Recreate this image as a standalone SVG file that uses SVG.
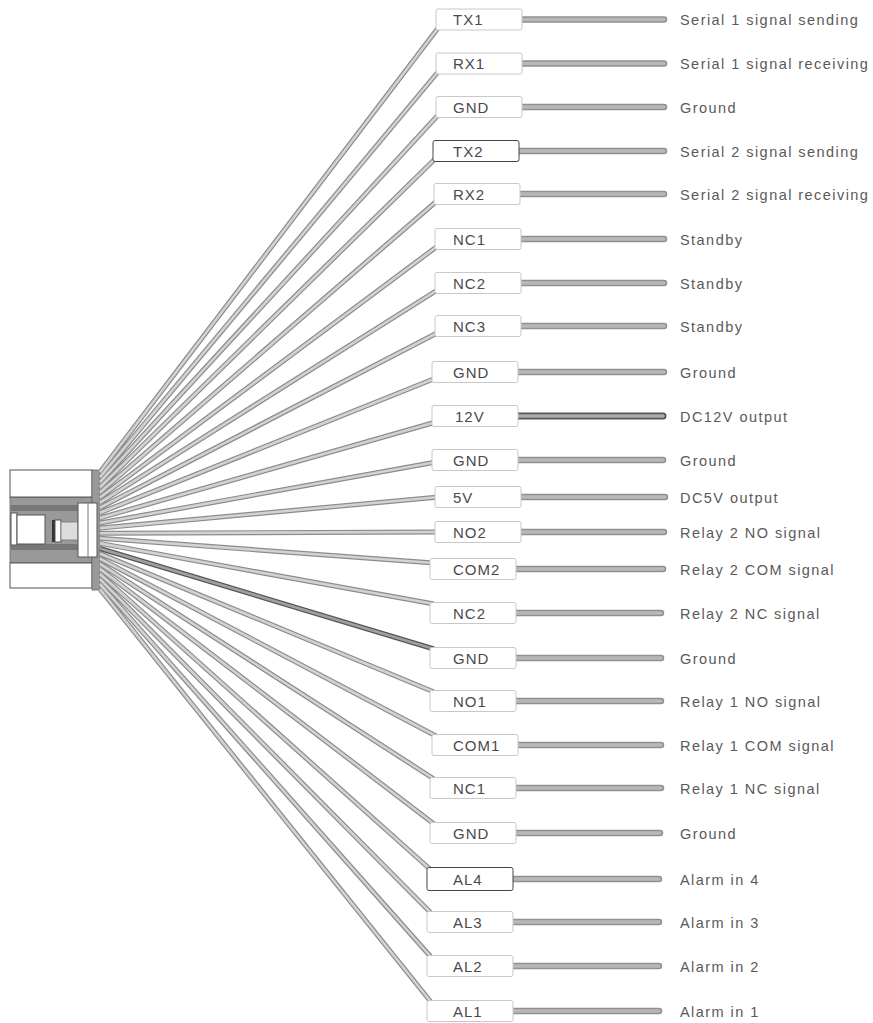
<svg xmlns="http://www.w3.org/2000/svg" width="873" height="1023" viewBox="0 0 873 1023">
<style>
.bg{fill:#fff}
.fo{fill:none;stroke:#8c8c8c;stroke-width:5;stroke-linecap:butt}
.fi{fill:none;stroke:#d2d2d2;stroke-width:2.6}
.fod{fill:none;stroke:#555;stroke-width:5}
.fid{fill:none;stroke:#a0a0a0;stroke-width:2.6}
.bo{fill:none;stroke:#909090;stroke-width:6.5;stroke-linecap:round}
.bi{fill:none;stroke:#b8b8b8;stroke-width:3.5;stroke-linecap:round}
.bod{fill:none;stroke:#555;stroke-width:7;stroke-linecap:round}
.bid{fill:none;stroke:#aaa;stroke-width:3.5;stroke-linecap:round}
.box{fill:#fff;stroke:#c8c8c8;stroke-width:1}
.boxd{fill:#fff;stroke:#444;stroke-width:1}
.bt{font-family:"Liberation Sans",Arial,sans-serif;font-size:15px;fill:#4a4a4a;letter-spacing:1px}
.lt{font-family:"Liberation Sans",Arial,sans-serif;font-size:14.5px;fill:#5a5a5a;letter-spacing:1.45px}
.cw{fill:#fff;stroke:#555;stroke-width:1}
.cg{fill:#999;stroke:#666;stroke-width:0.8}
</style>
<rect class="bg" x="0" y="0" width="873" height="1023"/>

<g id="plug">
  <rect class="cg" x="10" y="497" width="82" height="66"/>
  <rect x="11" y="505" width="67" height="6" fill="#777"/>
  <rect x="11" y="544" width="67" height="6" fill="#777"/>
  <rect class="cw" x="10" y="470" width="82" height="27"/>
  <rect class="cw" x="10" y="563" width="82" height="25"/>
  <rect class="cw" x="11" y="513" width="6" height="32"/>
  <rect class="cw" x="17" y="515" width="28" height="29"/>
  <rect x="52" y="520" width="3" height="22" fill="#333"/>
  <rect class="cw" x="55" y="520" width="6" height="22"/>
  <rect x="61" y="522" width="17" height="18" fill="#ddd" stroke="#777" stroke-width="0.8"/>
  <rect class="cg" x="92" y="470" width="8" height="120"/>
  <rect class="cw" x="78" y="503" width="19" height="54"/>
  <line x1="88" y1="503" x2="88" y2="557" stroke="#777" stroke-width="1"/>
</g>

<g id="connectors">
  <path class="fo" d="M100 472L440 25.5M100 477.1L440 69.5M100 482.2L440 113M100 487.3L437 157M100 492.4L438 200M100 497.5L439 245M100 502.6L439 289M100 507.7L439 332M100 512.8L436 378M100 517.9L436 422M100 523L436 462M100 528.1L439 497M100 533.2L439 532M100 538.3L434 563M100 543.4L434 604M100 553.6L434 692M100 558.7L436 736M100 563.8L434 779M100 568.9L434 824M100 574L431 870M100 579.1L431 913M100 584.2L431 957M100 589.3L431 1002"/>
  <path class="fi" d="M100 472L440 25.5M100 477.1L440 69.5M100 482.2L440 113M100 487.3L437 157M100 492.4L438 200M100 497.5L439 245M100 502.6L439 289M100 507.7L439 332M100 512.8L436 378M100 517.9L436 422M100 523L436 462M100 528.1L439 497M100 533.2L439 532M100 538.3L434 563M100 543.4L434 604M100 553.6L434 692M100 558.7L436 736M100 563.8L434 779M100 568.9L434 824M100 574L431 870M100 579.1L431 913M100 584.2L431 957M100 589.3L431 1002"/>
  <path class="fod" d="M100 548.5L434 649"/>
  <path class="fid" d="M100 548.5L434 649"/>
  <path class="bo" d="M522 19.5H664M522 63.5H664M522 107H664M519 151H664M520 194H664M521 239H664M521 283H664M521 326H664M518 372H664M518 460H663M521 497H665M521 532H664M516 569H663M516 613H661M516 658H661M516 701H661M518 745H661M516 788H661M516 833H660M513 879H659M513 922H659M513 966H659M513 1011H659"/>
  <path class="bi" d="M522 19.5H664M522 63.5H664M522 107H664M519 151H664M520 194H664M521 239H664M521 283H664M521 326H664M518 372H664M518 460H663M521 497H665M521 532H664M516 569H663M516 613H661M516 658H661M516 701H661M518 745H661M516 788H661M516 833H660M513 879H659M513 922H659M513 966H659M513 1011H659"/>
  <path class="bod" d="M518 416H663"/>
  <path class="bid" d="M518 416H663"/>
</g>

<g id="n1"><rect class="box" x="436" y="9" width="86" height="21" rx="2"/><text class="bt" x="453" y="25">TX1</text><text class="lt" x="680" y="25">Serial 1 signal sending</text></g>
<g id="n2"><rect class="box" x="436" y="53" width="86" height="21" rx="2"/><text class="bt" x="453" y="69">RX1</text><text class="lt" x="680" y="69">Serial 1 signal receiving</text></g>
<g id="n3"><rect class="box" x="436" y="96.5" width="86" height="21" rx="2"/><text class="bt" x="453" y="112.5">GND</text><text class="lt" x="680" y="112.5">Ground</text></g>
<g id="n4"><rect class="boxd" x="433" y="140.5" width="86" height="21" rx="2"/><text class="bt" x="453" y="156.5">TX2</text><text class="lt" x="680" y="156.5">Serial 2 signal sending</text></g>
<g id="n5"><rect class="box" x="434" y="183.5" width="86" height="21" rx="2"/><text class="bt" x="453" y="199.5">RX2</text><text class="lt" x="680" y="199.5">Serial 2 signal receiving</text></g>
<g id="n6"><rect class="box" x="435" y="228.5" width="86" height="21" rx="2"/><text class="bt" x="453" y="244.5">NC1</text><text class="lt" x="680" y="244.5">Standby</text></g>
<g id="n7"><rect class="box" x="435" y="272.5" width="86" height="21" rx="2"/><text class="bt" x="453" y="288.5">NC2</text><text class="lt" x="680" y="288.5">Standby</text></g>
<g id="n8"><rect class="box" x="435" y="315.5" width="86" height="21" rx="2"/><text class="bt" x="453" y="331.5">NC3</text><text class="lt" x="680" y="331.5">Standby</text></g>
<g id="n9"><rect class="box" x="432" y="361.5" width="86" height="21" rx="2"/><text class="bt" x="453" y="377.5">GND</text><text class="lt" x="680" y="377.5">Ground</text></g>
<g id="n10"><rect class="box" x="432" y="405.5" width="86" height="21" rx="2"/><text class="bt" x="455" y="421.5">12V</text><text class="lt" x="680" y="421.5">DC12V output</text></g>
<g id="n11"><rect class="box" x="432" y="449.5" width="86" height="21" rx="2"/><text class="bt" x="453" y="465.5">GND</text><text class="lt" x="680" y="465.5">Ground</text></g>
<g id="n12"><rect class="box" x="435" y="486.5" width="86" height="21" rx="2"/><text class="bt" x="453" y="502.5">5V</text><text class="lt" x="680" y="502.5">DC5V output</text></g>
<g id="n13"><rect class="box" x="435" y="521.5" width="86" height="21" rx="2"/><text class="bt" x="453" y="537.5">NO2</text><text class="lt" x="680" y="537.5">Relay 2 NO signal</text></g>
<g id="n14"><rect class="box" x="430" y="558.5" width="86" height="21" rx="2"/><text class="bt" x="453" y="574.5">COM2</text><text class="lt" x="680" y="574.5">Relay 2 COM signal</text></g>
<g id="n15"><rect class="box" x="430" y="602.5" width="86" height="21" rx="2"/><text class="bt" x="453" y="618.5">NC2</text><text class="lt" x="680" y="618.5">Relay 2 NC signal</text></g>
<g id="n16"><rect class="box" x="430" y="647.5" width="86" height="21" rx="2"/><text class="bt" x="453" y="663.5">GND</text><text class="lt" x="680" y="663.5">Ground</text></g>
<g id="n17"><rect class="box" x="430" y="690.5" width="86" height="21" rx="2"/><text class="bt" x="453" y="706.5">NO1</text><text class="lt" x="680" y="706.5">Relay 1 NO signal</text></g>
<g id="n18"><rect class="box" x="432" y="734.5" width="86" height="21" rx="2"/><text class="bt" x="453" y="750.5">COM1</text><text class="lt" x="680" y="750.5">Relay 1 COM signal</text></g>
<g id="n19"><rect class="box" x="430" y="777.5" width="86" height="21" rx="2"/><text class="bt" x="453" y="793.5">NC1</text><text class="lt" x="680" y="793.5">Relay 1 NC signal</text></g>
<g id="n20"><rect class="box" x="430" y="822.5" width="86" height="21" rx="2"/><text class="bt" x="453" y="838.5">GND</text><text class="lt" x="680" y="838.5">Ground</text></g>
<g id="n21"><rect class="boxd" x="427" y="867.5" width="86" height="23" rx="2"/><text class="bt" x="453" y="884.5">AL4</text><text class="lt" x="680" y="884.5">Alarm in 4</text></g>
<g id="n22"><rect class="box" x="427" y="911.5" width="86" height="21" rx="2"/><text class="bt" x="453" y="927.5">AL3</text><text class="lt" x="680" y="927.5">Alarm in 3</text></g>
<g id="n23"><rect class="box" x="427" y="955.5" width="86" height="21" rx="2"/><text class="bt" x="453" y="971.5">AL2</text><text class="lt" x="680" y="971.5">Alarm in 2</text></g>
<g id="n24"><rect class="box" x="427" y="1000.5" width="86" height="21" rx="2"/><text class="bt" x="453" y="1016.5">AL1</text><text class="lt" x="680" y="1016.5">Alarm in 1</text></g>
</svg>
